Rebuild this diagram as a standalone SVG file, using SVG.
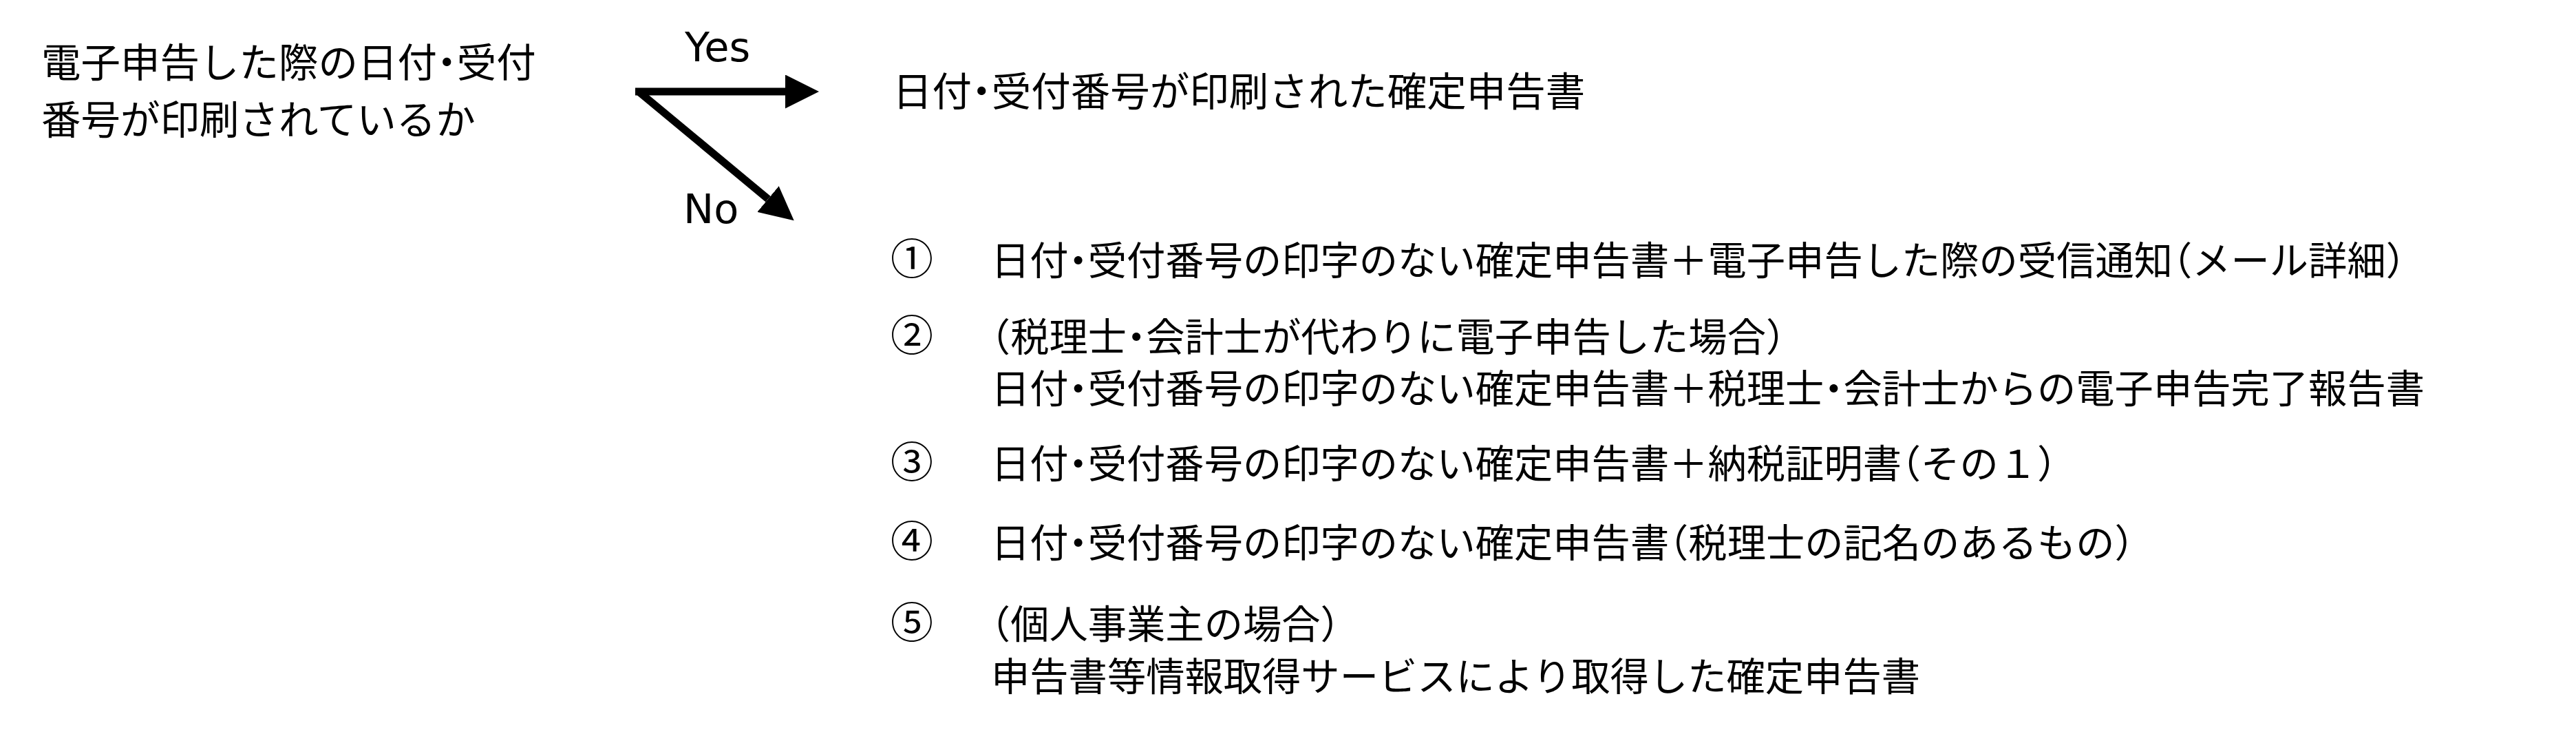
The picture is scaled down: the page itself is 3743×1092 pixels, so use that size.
<svg xmlns="http://www.w3.org/2000/svg" width="3743" height="1092" viewBox="0 0 3743 1092">
  <style>
    .jp { font-family: "Noto Sans CJK JP", "Noto Sans CJK SC", sans-serif; font-feature-settings: "halt"; fill: #000; }
    .top { font-size: 57.5px; }
    .list { font-size: 56.3px; }
    .num { font-size: 62px; }
    .lbl { font-family: "DejaVu Sans", "Liberation Sans", sans-serif; font-size: 59px; fill: #000; }
    .conn { stroke: #000; stroke-width: 11; fill: none; stroke-linecap: butt; }
  </style>
  <defs>
    <marker id="arrow" markerUnits="userSpaceOnUse" markerWidth="49" markerHeight="49" refX="0" refY="24.5" orient="auto" viewBox="0 0 49 49">
      <path d="M0,0 L49,24.5 L0,49 Z" fill="#000"/>
    </marker>
  </defs>
  <rect x="0" y="0" width="3743" height="1092" fill="#fff"/>

  <g id="question">
    <text class="jp top" x="60" y="112">電子申告した際の日付・受付</text>
    <text class="jp top" x="60" y="195">番号が印刷されているか</text>
  </g>

  <g id="connectors">
    <line class="conn" x1="923" y1="133" x2="1141" y2="133" marker-end="url(#arrow)"/>
    <line class="conn" x1="928" y1="133" x2="1116" y2="289" marker-end="url(#arrow)"/>
    <text class="lbl" x="995" y="89">Yes</text>
    <text class="lbl" x="993" y="324">No</text>
  </g>

  <g id="yes-result">
    <text class="jp top" x="1297" y="154">日付・受付番号が印刷された確定申告書</text>
  </g>

  <g id="no-option-1">
    <text class="jp num" x="1294" y="399">①</text>
    <text class="jp list" x="1440" y="399">日付・受付番号の印字のない確定申告書＋電子申告した際の受信通知（メール詳細）</text>
  </g>

  <g id="no-option-2">
    <text class="jp num" x="1294" y="510">②</text>
    <text class="jp list" x="1440" y="510">（税理士・会計士が代わりに電子申告した場合）</text>
    <text class="jp list" x="1440" y="585">日付・受付番号の印字のない確定申告書＋税理士・会計士からの電子申告完了報告書</text>
  </g>

  <g id="no-option-3">
    <text class="jp num" x="1294" y="694">③</text>
    <text class="jp list" x="1440" y="694">日付・受付番号の印字のない確定申告書＋納税証明書（その１）</text>
  </g>

  <g id="no-option-4">
    <text class="jp num" x="1294" y="809">④</text>
    <text class="jp list" x="1440" y="809">日付・受付番号の印字のない確定申告書（税理士の記名のあるもの）</text>
  </g>

  <g id="no-option-5">
    <text class="jp num" x="1294" y="927">⑤</text>
    <text class="jp list" x="1440" y="927">（個人事業主の場合）</text>
    <text class="jp list" x="1440" y="1003">申告書等情報取得サービスにより取得した確定申告書</text>
  </g>
</svg>
